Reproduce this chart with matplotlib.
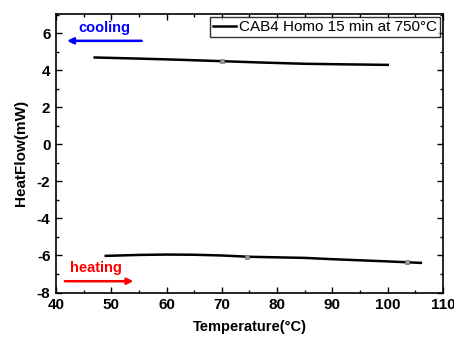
import matplotlib.pyplot as plt
from matplotlib.ticker import MultipleLocator

plt.rcParams['font.family'] = ['Liberation Sans', 'DejaVu Sans']
plt.rcParams['font.weight'] = 'bold'
plt.rcParams['axes.unicode_minus'] = False

# cooling curve (upper)
cool_t = [47, 55, 62, 70, 78, 85, 92, 100]
cool_hf = [4.70, 4.64, 4.58, 4.50, 4.42, 4.36, 4.33, 4.30]
cool_mark_t = [70]
cool_mark_hf = [4.50]

# heating curve (lower)
heat_t = [49, 55, 60, 65, 70, 75, 80, 85, 90, 95, 100, 106]
heat_hf = [-6.02, -5.97, -5.95, -5.96, -6.00, -6.07, -6.10, -6.13, -6.20, -6.26, -6.32, -6.40]
heat_mark_t = [74.5, 103.5]
heat_mark_hf = [-6.07, -6.35]

legend_label = 'CAB4 Homo 15 min at 750°C'

fig = plt.figure(figsize=(4.54, 3.45), dpi=100)
ax = fig.add_axes([56 / 454, 1 - 292.5 / 345, (443 - 56) / 454, (292.5 - 14) / 345])

ax.plot(cool_t, cool_hf, color='black', lw=1.8, label=legend_label)
ax.plot(heat_t, heat_hf, color='black', lw=1.8)
ax.plot(cool_mark_t, cool_mark_hf, 's', color='#999999', ms=3.5, mec='#777777', mew=0.5)
ax.plot(heat_mark_t, heat_mark_hf, 's', color='#999999', ms=3.5, mec='#777777', mew=0.5)

ax.set_xlim(40, 110)
ax.set_ylim(-8, 7.05)
ax.xaxis.set_major_locator(MultipleLocator(10))
ax.xaxis.set_minor_locator(MultipleLocator(5))
ax.yaxis.set_major_locator(MultipleLocator(2))
ax.yaxis.set_minor_locator(MultipleLocator(1))
ax.tick_params(which='both', direction='in', top=True, right=True, labelsize=11, width=1)
ax.tick_params(which='major', length=4, pad=4)
ax.tick_params(which='minor', length=2.5)
for s in ax.spines.values():
    s.set_linewidth(1.2)

ax.set_xlabel('Temperature(°C)', fontsize=10.5, fontweight='bold', labelpad=6)
ax.set_ylabel('HeatFlow(mW)', fontsize=11, fontweight='bold', labelpad=6)

ax.text(48.8, 6.3, 'cooling', color='blue', fontsize=10.5, fontweight='bold', ha='center', va='center')
ax.annotate('', xy=(41.5, 5.6), xytext=(56, 5.6),
            arrowprops=dict(arrowstyle='-|>', color='blue', lw=1.8, mutation_scale=9))
ax.text(47.3, -6.7, 'heating', color='red', fontsize=10.5, fontweight='bold', ha='center', va='center')
ax.annotate('', xy=(54.5, -7.39), xytext=(41.1, -7.39),
            arrowprops=dict(arrowstyle='-|>', color='red', lw=1.8, mutation_scale=9))

leg = ax.legend(loc='upper right', prop={'size': 11, 'weight': 'normal'}, frameon=True, fancybox=False,
                borderpad=0.2, handlelength=1.5, handletextpad=0.2, borderaxespad=0.2)
leg.get_frame().set_edgecolor('black')
leg.get_frame().set_linewidth(1.0)

fig.savefig('out.png', dpi=100)
